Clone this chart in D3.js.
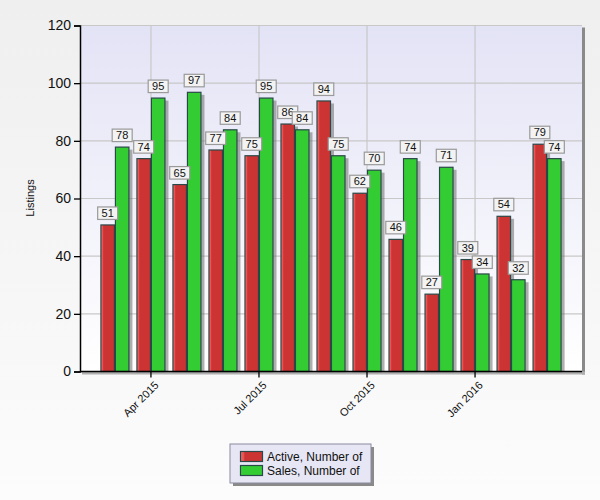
<!DOCTYPE html>
<html><head><meta charset="utf-8">
<script src="https://cdn.jsdelivr.net/npm/d3@7"></script>
<style>html,body{margin:0;padding:0;}svg{display:block;font-family:"Liberation Sans",Arial,sans-serif;}</style>
</head><body>
<svg id="c" width="600" height="500"></svg>
<script>
const months = ["Mar 2015","Apr 2015","May 2015","Jun 2015","Jul 2015","Aug 2015","Sep 2015","Oct 2015","Nov 2015","Dec 2015","Jan 2016","Feb 2016","Mar 2016"];
const activeVals = [51,74,65,77,75,86,94,62,46,27,39,54,79];
const salesVals  = [78,95,97,84,95,84,75,70,74,71,34,32,74];
const tickMonths = ["Apr 2015","Jul 2015","Oct 2015","Jan 2016"];
const yTicks = [0,20,40,60,80,100,120];
const seriesNames = ["Active, Number of","Sales, Number of"];

const svg = d3.select("#c");
const defs = svg.append("defs");
function lg(id, stops, x2, y2){
  const g = defs.append("linearGradient").attr("id",id).attr("x1",0).attr("y1",0).attr("x2",x2).attr("y2",y2);
  stops.forEach(s=>g.append("stop").attr("offset",s[0]).attr("stop-color",s[1]));
}
lg("bg",[[0,"#efefef"],[1,"#fcfcfc"]],0,1);
lg("plot",[[0,"#e3e3f6"],[1,"#ffffff"]],0,1);
lg("red",[[0,"#f26a6a"],[0.14,"#ea5050"],[0.2,"#cc3333"],[1,"#cc3333"]],1,0);
lg("green",[[0,"#3bd43b"],[0.14,"#33cc33"],[1,"#33cc33"]],1,0);

const W=600,H=500;
const L=80,R=582,T=25.5,B=371.5;
svg.append("rect").attr("width",W).attr("height",H).attr("fill","url(#bg)");

const x = d3.scaleBand().domain(months).range([L,R]).paddingInner(0).paddingOuter(0.47);
const y = d3.scaleLinear().domain([0,120]).range([B,T]);

// plot shadow
svg.append("rect").attr("x",R).attr("y",T+2).attr("width",3).attr("height",B-T+1).attr("fill","#8a8a8a");
svg.append("rect").attr("x",L+2).attr("y",B).attr("width",R-L+1).attr("height",3).attr("fill","#b0b0b0");
svg.append("rect").attr("x",L).attr("y",T).attr("width",R-L).attr("height",B-T).attr("fill","url(#plot)");

// grid
const grid = svg.append("g").attr("stroke","#c8c8c8").attr("stroke-width",1.2);
yTicks.filter(d=>d>0).forEach(d=>grid.append("line").attr("x1",L).attr("x2",R).attr("y1",y(d)).attr("y2",y(d)));
tickMonths.forEach(m=>{const cx=x(m)+x.bandwidth()/2; grid.append("line").attr("x1",cx).attr("x2",cx).attr("y1",T).attr("y2",B);});

// bars
const bw = 14.5;
const groups = svg.append("g");
const series = [{vals:activeVals, fill:"url(#red)", off:-bw},{vals:salesVals, fill:"url(#green)", off:0}];
series.forEach(s=>{
  months.forEach((m,i)=>{
    const cx = x(m)+x.bandwidth()/2;
    const bx = cx + s.off, by = y(s.vals[i]);
    groups.append("rect").attr("x",bx+3).attr("y",by+3).attr("width",bw).attr("height",B-by-3).attr("fill","#6e6e6e").attr("opacity",0.55);
  });
});
series.forEach(s=>{
  months.forEach((m,i)=>{
    const cx = x(m)+x.bandwidth()/2;
    const bx = cx + s.off, by = y(s.vals[i]);
    groups.append("rect").attr("x",bx+0.5).attr("y",by+0.5).attr("width",bw-1).attr("height",B-by-0.5)
      .attr("fill",s.fill).attr("stroke","#2a4848").attr("stroke-width",1.2);
  });
});

// axes
const yAxis = d3.axisLeft(y).tickValues(yTicks).tickSize(6).tickPadding(3);
const ya = svg.append("g").attr("transform",`translate(${L},0)`).call(yAxis);
ya.select(".domain").attr("stroke","#000").attr("stroke-width",1.5);
ya.selectAll(".tick line").attr("stroke","#000").attr("stroke-width",1.3);
ya.selectAll("text").attr("font-size",14).attr("fill","#111").attr("font-family","Liberation Sans, Arial, sans-serif");

svg.append("line").attr("x1",L).attr("x2",R).attr("y1",B).attr("y2",B).attr("stroke","#000").attr("stroke-width",1.5);
const xg = svg.append("g");
tickMonths.forEach(m=>{
  const cx = x(m)+x.bandwidth()/2;
  xg.append("line").attr("x1",cx).attr("x2",cx).attr("y1",B).attr("y2",B+6).attr("stroke","#000").attr("stroke-width",1.3);
  xg.append("text").attr("transform",`translate(${cx+3},${B+9}) rotate(-45)`).attr("text-anchor","end")
    .attr("dy","0.7em").attr("font-size",11).attr("fill","#111").text(m);
});

svg.append("text").attr("transform","translate(34,198) rotate(-90)").attr("text-anchor","middle")
  .attr("font-size",11).attr("fill","#111").text("Listings");

// value labels
const lbl = svg.append("g");
series.forEach(s=>{
  months.forEach((m,i)=>{
    const cx = x(m)+x.bandwidth()/2 + s.off + bw/2;
    const by = y(s.vals[i]);
    const g = lbl.append("g").attr("transform",`translate(${cx},${by-5})`);
    g.append("rect").attr("x",-10).attr("y",-12.5).attr("width",20).attr("height",12.5).attr("fill","#f3f3f3").attr("stroke","#9a9a9a").attr("stroke-width",1.2);
    g.append("text").attr("y",-2.5).attr("text-anchor","middle").attr("font-size",11).attr("fill","#111").text(s.vals[i]);
  });
});

// legend
const lx=230, ly=444, lw=141, lh=39;
svg.append("rect").attr("x",lx+3).attr("y",ly+3).attr("width",lw).attr("height",lh).attr("fill","#8a8a8a");
svg.append("rect").attr("x",lx).attr("y",ly).attr("width",lw).attr("height",lh).attr("fill","#e6e6f5").attr("stroke","#8a8aa0").attr("stroke-width",1);
[["url(#red)",0],["url(#green)",1]].forEach(([f,i])=>{
  svg.append("rect").attr("x",lx+10.5).attr("y",ly+7.5+i*14).attr("width",22).attr("height",10).attr("fill",f).attr("stroke","#2a4848").attr("stroke-width",1.2);
  svg.append("text").attr("x",lx+37).attr("y",ly+16.5+i*14).attr("font-size",12).attr("fill","#111").text(seriesNames[i]);
});
</script>
</body></html>
